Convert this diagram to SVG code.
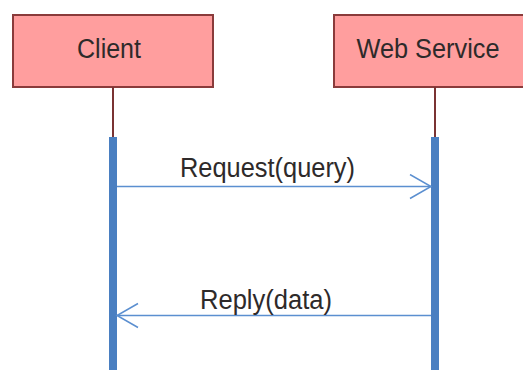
<svg xmlns="http://www.w3.org/2000/svg" width="523" height="370" viewBox="0 0 523 370">
  <style>
    .head { fill: #ff9e9e; stroke: #8a3b3b; stroke-width: 2; }
    .life { stroke: #7a3333; stroke-width: 2; }
    .act { fill: #4a7fc1; }
    .msg { stroke: #5b8fd0; stroke-width: 1.5; fill: none; }
    .lbl { font-family: "Liberation Sans", Arial, sans-serif; font-size: 27px; fill: #2e2a2a; }
  </style>
  <defs>
    <marker id="open" markerUnits="userSpaceOnUse" markerWidth="26" markerHeight="30" refX="22" refY="13" orient="auto">
      <path d="M1,1 L22,13 L1,25" fill="none" stroke="#5b8fd0" stroke-width="1.5"/>
    </marker>
  </defs>
  <rect width="523" height="370" fill="#ffffff"/>

  <g id="client">
    <rect class="head" x="13" y="15" width="200" height="72"/>
    <text class="lbl" x="109" y="58" text-anchor="middle" textLength="64" lengthAdjust="spacingAndGlyphs">Client</text>
    <line class="life" x1="113" y1="87" x2="113" y2="137"/>
    <rect class="act" x="109" y="137" width="8" height="240"/>
  </g>

  <g id="web-service">
    <rect class="head" x="334" y="15" width="202" height="72"/>
    <text class="lbl" x="428" y="58" text-anchor="middle" textLength="143" lengthAdjust="spacingAndGlyphs">Web Service</text>
    <line class="life" x1="435" y1="87" x2="435" y2="137"/>
    <rect class="act" x="431" y="137" width="8" height="240"/>
  </g>

  <g id="messages">
    <line class="msg" x1="117" y1="186.5" x2="431" y2="186.5" marker-end="url(#open)"/>
    <text class="lbl" x="267.5" y="177" text-anchor="middle" textLength="175" lengthAdjust="spacingAndGlyphs">Request(query)</text>
    <line class="msg" x1="431" y1="315.5" x2="117" y2="315.5" marker-end="url(#open)"/>
    <text class="lbl" x="266" y="308.5" text-anchor="middle" textLength="132" lengthAdjust="spacingAndGlyphs">Reply(data)</text>
  </g>
</svg>
